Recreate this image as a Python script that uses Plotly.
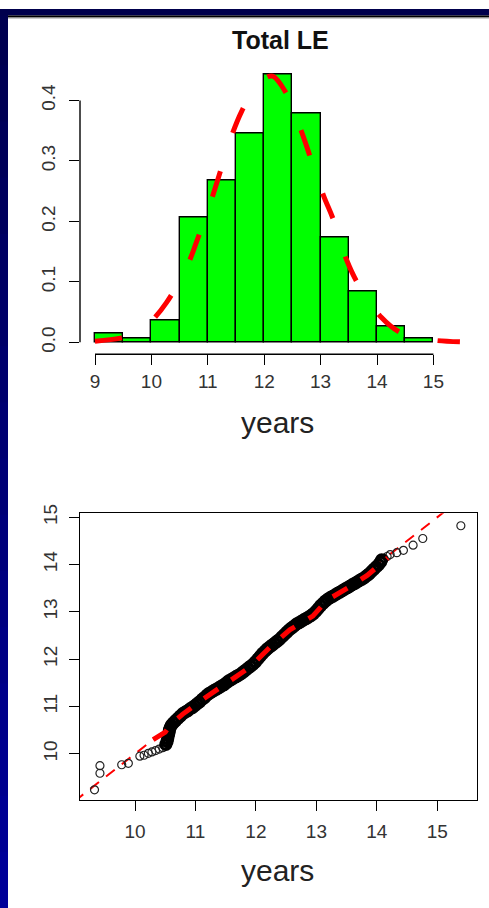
import plotly.graph_objects as go

W, H = 489, 908

# ---------------- data ----------------
# histogram of Total LE (density scale)
bin_edges = [9.0, 9.5, 10.0, 10.5, 11.0, 11.5, 12.0, 12.5, 13.0, 13.5, 14.0, 14.5, 15.0]
density = [0.014, 0.0065, 0.037, 0.207, 0.268, 0.345, 0.443, 0.379, 0.173, 0.085, 0.026, 0.0065]

# normal density curve
curve_x = [9.0, 9.45, 9.7, 9.975, 10.27, 10.63, 10.80, 11.04, 11.19, 11.42, 11.60, 11.80,
           12.01, 12.15, 12.37, 12.66, 12.81, 13.05, 13.23, 13.46, 13.67, 14.08, 14.41,
           14.7, 15.06, 15.47]
curve_y = [0.002, 0.007, 0.015, 0.033, 0.066, 0.1255, 0.166, 0.229, 0.273, 0.341, 0.382, 0.415,
           0.436, 0.440, 0.415, 0.349, 0.308, 0.243, 0.202, 0.1365, 0.0956, 0.041, 0.0164,
           0.008, 0.003, 0.001]

# QQ points: sparse tails
tail_x = [9.33, 9.42, 9.42, 9.78, 9.89, 10.08, 10.15, 10.22, 10.28, 10.34, 10.40, 10.46,
          14.12, 14.17, 14.22, 14.33, 14.44, 14.60, 14.76, 15.39]
tail_y = [9.24, 9.59, 9.75, 9.77, 9.80, 9.95, 9.97, 10.01, 10.04, 10.07, 10.10, 10.13,
          14.13, 14.17, 14.21, 14.25, 14.30, 14.41, 14.55, 14.82]

# QQ points: dense central band
dense_x = [10.51, 10.53, 10.54, 10.55, 10.56, 10.57, 10.58, 10.60, 10.63, 10.67, 10.71, 10.75, 10.79,
           10.83, 10.87, 10.91, 10.95, 10.99, 11.03, 11.07, 11.11, 11.15, 11.19, 11.23, 11.27,
           11.31, 11.35, 11.39, 11.43, 11.47, 11.51, 11.55, 11.59, 11.63, 11.67, 11.71, 11.75,
           11.79, 11.83, 11.87, 11.91, 11.95, 11.99, 12.03, 12.07, 12.11, 12.15, 12.19, 12.23,
           12.27, 12.31, 12.35, 12.39, 12.43, 12.47, 12.51, 12.55, 12.59, 12.63, 12.67, 12.71,
           12.75, 12.79, 12.83, 12.87, 12.91, 12.95, 12.99, 13.03, 13.07, 13.11, 13.15, 13.19,
           13.23, 13.27, 13.31, 13.35, 13.39, 13.43, 13.47, 13.51, 13.55, 13.59, 13.63, 13.67,
           13.71, 13.75, 13.79, 13.83, 13.87, 13.91, 13.95, 13.99, 14.03, 14.06, 14.08]
dense_y = [10.20, 10.26, 10.32, 10.38, 10.44, 10.50, 10.55, 10.60, 10.65, 10.70, 10.75, 10.80, 10.85,
           10.88, 10.91, 10.95, 10.98, 11.02, 11.06, 11.10, 11.15, 11.19, 11.24, 11.28, 11.31,
           11.34, 11.37, 11.40, 11.43, 11.46, 11.50, 11.54, 11.57, 11.60, 11.63, 11.66, 11.69,
           11.73, 11.77, 11.81, 11.85, 11.89, 11.94, 12.00, 12.06, 12.12, 12.17, 12.22, 12.26,
           12.30, 12.34, 12.38, 12.42, 12.47, 12.52, 12.57, 12.62, 12.66, 12.70, 12.74, 12.77,
           12.80, 12.83, 12.86, 12.89, 12.92, 12.96, 13.01, 13.07, 13.13, 13.18, 13.23, 13.27,
           13.30, 13.33, 13.36, 13.39, 13.42, 13.45, 13.48, 13.51, 13.54, 13.57, 13.60, 13.63,
           13.66, 13.69, 13.72, 13.76, 13.80, 13.85, 13.90, 13.95, 14.00, 14.05, 14.10]

# smooth trend through the QQ points (thick dashes)
fit_x = [10.30, 10.50, 10.58, 10.79, 11.13, 11.52, 11.90, 12.23, 12.56, 12.94, 13.18, 13.56, 13.84, 14.18]
fit_y = [10.30, 10.46, 10.61, 10.84, 11.16, 11.51, 11.83, 12.25, 12.62, 12.91, 13.25, 13.54, 13.77, 14.14]

# identity reference line
ref_x = [9.0, 15.2]
ref_y = [9.0, 15.2]

hist_xticks = [9, 10, 11, 12, 13, 14, 15]
hist_yticks = [0.0, 0.1, 0.2, 0.3, 0.4]
hist_yticktext = ["0.0", "0.1", "0.2", "0.3", "0.4"]
qq_ticks = [10, 11, 12, 13, 14, 15]

title_text = "Total LE"
xlabel_text = "years"

# ---------------- helpers ----------------
def fx(p):
    return p / W

def fy(p):
    return 1 - p / H

FONT = "Liberation Sans, Arial, sans-serif"
TICKFONT = dict(family=FONT, size=19, color="#333333")

bin_mid = [(a + b) / 2 for a, b in zip(bin_edges[:-1], bin_edges[1:])]
bin_w = [b - a for a, b in zip(bin_edges[:-1], bin_edges[1:])]

fig = go.Figure()

fig.add_trace(go.Bar(x=bin_mid, y=density, width=bin_w,
                     marker=dict(color="#00ff00", line=dict(color="black", width=1.4)),
                     xaxis="x", yaxis="y", showlegend=False))
fig.add_trace(go.Scatter(x=curve_x, y=curve_y, mode="lines",
                         line=dict(color="#ff0000", width=5, dash="27px,40px", shape="spline"),
                         xaxis="x", yaxis="y", showlegend=False))

fig.add_trace(go.Scatter(x=ref_x, y=ref_y, mode="lines",
                         line=dict(color="#ff0000", width=2, dash="11px,9px"),
                         xaxis="x2", yaxis="y2", showlegend=False))
fig.add_trace(go.Scatter(x=tail_x, y=tail_y, mode="markers",
                         marker=dict(symbol="circle-open", size=8, color="#222222",
                                     line=dict(width=1.2, color="#222222")),
                         xaxis="x2", yaxis="y2", showlegend=False))
fig.add_trace(go.Scatter(x=dense_x, y=dense_y, mode="markers",
                         marker=dict(symbol="circle-open", size=10, color="#000000",
                                     line=dict(width=3.2, color="#000000")),
                         xaxis="x2", yaxis="y2", showlegend=False))
fig.add_trace(go.Scatter(x=fit_x, y=fit_y, mode="lines",
                         line=dict(color="#ff0000", width=5, dash="17px,16px"),
                         xaxis="x2", yaxis="y2", showlegend=False))

axis_common = dict(showgrid=False, zeroline=False, ticks="outside", ticklen=10,
                   tickwidth=1.3, tickcolor="black", tickfont=TICKFONT, fixedrange=True)

fig.update_layout(
    width=W, height=H,
    margin=dict(l=0, r=0, t=0, b=0),
    paper_bgcolor="white", plot_bgcolor="rgba(0,0,0,0)",
    bargap=0,
    xaxis=dict(domain=[fx(80), fx(480)], range=[8.734, 15.826], anchor="y",
               tickvals=hist_xticks, showline=False, ticklabelstandoff=0, **axis_common),
    yaxis=dict(domain=[fy(348.7), fy(60)], range=[-0.01964, 0.4529], anchor="x",
               tickvals=hist_yticks, ticktext=hist_yticktext, tickangle=-90,
               showline=False, ticklabelstandoff=6, **axis_common),
    xaxis2=dict(domain=[fx(80), fx(476.7)], range=[9.090, 15.652], anchor="y2",
                tickvals=qq_ticks, showline=True, mirror=True, linewidth=1.3,
                linecolor="black", ticklabelstandoff=4, **axis_common),
    yaxis2=dict(domain=[fy(799), fy(509.3)], range=[9.023, 15.084], anchor="x2",
                tickvals=qq_ticks, tickangle=-90, showline=True, mirror=True,
                linewidth=1.3, linecolor="black", ticklabelstandoff=4, **axis_common),
)

shapes = []
# histogram axis lines (R style, only across tick span)
shapes.append(dict(type="line", xref="x", yref="paper", x0=hist_xticks[0], x1=hist_xticks[-1],
                   y0=fy(348.7), y1=fy(348.7), line=dict(color="black", width=1.4)))
shapes.append(dict(type="line", xref="paper", yref="y", x0=fx(80), x1=fx(80),
                   y0=hist_yticks[0], y1=hist_yticks[-1], line=dict(color="black", width=1.4)))

# slide frame: left gradient strip (slightly overlapping bands to avoid seams)
n = 16
for i in range(n):
    t = i / (n - 1)
    b = int(0x50 + (0x99 - 0x50) * t)
    shapes.append(dict(type="rect", xref="paper", yref="paper", x0=0, x1=fx(8),
                       y0=fy(min(H, H * (i + 1) / n + 2)), y1=fy(H * i / n),
                       fillcolor=f"rgb(0,0,{b})", line=dict(width=0), layer="above"))
shapes.append(dict(type="rect", xref="paper", yref="paper", x0=0, x1=1, y0=fy(6.5), y1=1,
                   fillcolor="#00004d", line=dict(width=0), layer="above"))
shapes.append(dict(type="rect", xref="paper", yref="paper", x0=fx(8), x1=1, y0=fy(8.5), y1=fy(6.5),
                   fillcolor="#000000", line=dict(width=0), layer="above"))
shapes.append(dict(type="rect", xref="paper", yref="paper", x0=fx(8), x1=1, y0=fy(9.6), y1=fy(8.5),
                   fillcolor="#9a9a9a", line=dict(width=0), layer="above"))
fig.update_layout(shapes=shapes)

fig.add_annotation(text="<b>" + title_text + "</b>", xref="paper", yref="paper",
                   x=fx(280), y=fy(31), xanchor="center", yanchor="middle", showarrow=False,
                   font=dict(family=FONT, size=25, color="#111111"))
fig.add_annotation(text=xlabel_text, xref="paper", yref="paper",
                   x=fx(277), y=fy(418), xanchor="center", yanchor="middle", showarrow=False,
                   font=dict(family=FONT, size=30, color="#222222"))
fig.add_annotation(text=xlabel_text, xref="paper", yref="paper",
                   x=fx(277), y=fy(870), xanchor="center", yanchor="middle", showarrow=False,
                   font=dict(family=FONT, size=30, color="#222222"))

fig.write_html("out.html")
